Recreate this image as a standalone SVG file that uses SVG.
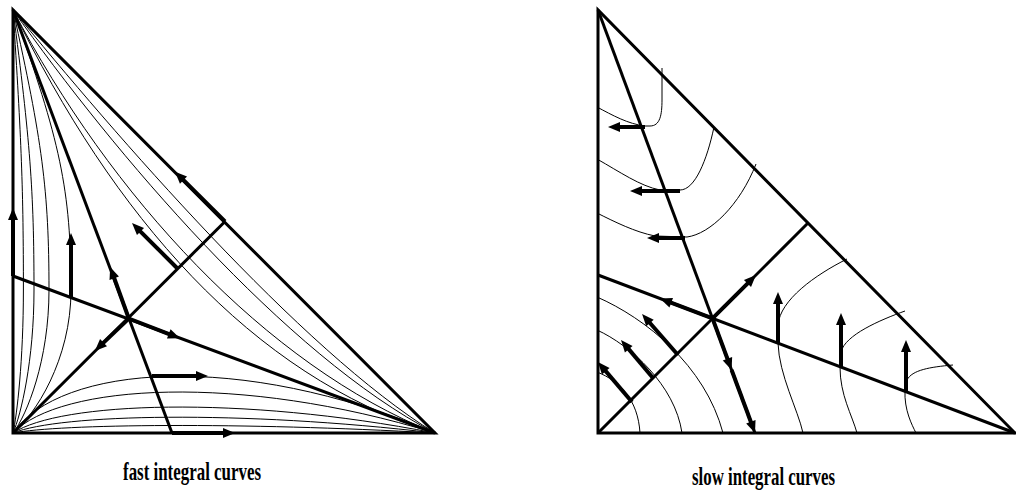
<svg xmlns="http://www.w3.org/2000/svg" width="1016" height="496" viewBox="0 0 1016 496">
<style>
.thick{fill:none;stroke:#000;stroke-width:3;stroke-linejoin:miter}
.thin{fill:none;stroke:#000;stroke-width:1}
.arr{fill:none;stroke:#000;stroke-width:4;marker-end:url(#ah)}
.lbl{font-family:"Liberation Serif","Times New Roman",serif;font-weight:bold;font-size:26px;fill:#000}
</style>
<defs>
<marker id="ah" markerUnits="userSpaceOnUse" markerWidth="12" markerHeight="10" refX="1" refY="5" orient="auto" overflow="visible">
<path d="M0,0 L12,5 L0,10 Z" fill="#000"/>
</marker>
</defs>
<rect width="1016" height="496" fill="#fff"/>

<g id="fast-panel">
<g id="fast-curves">
<path class="thin" d="M13,10 C21.5,140 23.4,190 23.4,290 C23.4,360 17,415 13,433"/>
<path class="thin" d="M13,10 C30,140 34,190 34,290 C34,360 21,415 13,433"/>
<path class="thin" d="M13,10 C42,140 49,190 49,290 C49,360 27,415 13,433"/>
<path class="thin" d="M13,10 C60,140 71,190 71,290 C71,360 35,415 13,433"/>
<path class="thin" d="M13,10 C113,132 300,350 435,433"/>
<path class="thin" d="M13,10 C113,152 285,355 435,433"/>
<path class="thin" d="M13,10 C110,195 265,365 435,433"/>
<path class="thin" d="M13,10 C113,215 250,375 435,433"/>
<path class="thin" d="M13,433 C60,365 240,350 435,433"/>
<path class="thin" d="M13,433 C60,384 240,373 435,433"/>
<path class="thin" d="M13,433 C60,402 240,395 435,433"/>
<path class="thin" d="M13,433 C60,414 240,410 435,433"/>
<path class="thin" d="M13,433 C60,424 240,422 435,433"/>
</g>
<g id="fast-frame">
<polygon class="thick" points="13,10 13,433 435,433"/>
<line class="thick" x1="13" y1="10" x2="172" y2="433"/>
<line class="thick" x1="13" y1="276" x2="435" y2="433"/>
<line class="thick" x1="13" y1="433" x2="225" y2="221.5"/>
</g>
<g id="fast-arrows">
<line class="arr" x1="13" y1="276" x2="13" y2="219"/>
<line class="arr" x1="71" y1="297" x2="71" y2="244"/>
<line class="arr" x1="128.8" y1="318.5" x2="113.9" y2="277.3"/>
<line class="arr" x1="177" y1="268" x2="139.8" y2="230.8"/>
<line class="arr" x1="225" y1="221.5" x2="182.8" y2="179.4"/>
<line class="arr" x1="128.8" y1="318.5" x2="169.7" y2="334.3"/>
<line class="arr" x1="128.8" y1="318.5" x2="102.8" y2="343.4"/>
<line class="arr" x1="152" y1="376" x2="197" y2="376"/>
<line class="arr" x1="172" y1="433" x2="224" y2="433"/>
</g>
<text id="fast-label" class="lbl" x="123" y="480" textLength="138" lengthAdjust="spacingAndGlyphs">fast integral curves</text>
</g>

<g id="slow-panel">
<g id="slow-curves">
<path class="thin" d="M597,107 C612,115 628,124 645,126 L650,126 C660,126 662,115 662,100 L662,68"/>
<path class="thin" d="M597,159 C620,172 640,186 660,190 L680,190 C695,190 707,160 714,127"/>
<path class="thin" d="M597,213 C615,222 635,232 655,236 L687,237 C710,234 740,205 756,164"/>
<path class="thin" d="M597,372 C620,381 638,400 640,433"/>
<path class="thin" d="M597,330 C630,345 675,385 682,433"/>
<path class="thin" d="M597,297 C645,318 705,365 723,433"/>
<path class="thin" d="M778,343 C779,375 798,410 803,433"/>
<path class="thin" d="M778,325 C780,300 815,275 847,259"/>
<path class="thin" d="M840,367 C840,395 852,415 857,433"/>
<path class="thin" d="M841,352 C845,335 880,320 905,311"/>
<path class="thin" d="M905,390 C904,410 912,425 916,433"/>
<path class="thin" d="M907,380 C912,370 930,367 953,365"/>
</g>
<g id="slow-frame">
<polygon class="thick" points="598,10 598,433 1015,433"/>
<line class="thick" x1="598" y1="10" x2="755" y2="433"/>
<line class="thick" x1="598" y1="275" x2="1015" y2="433"/>
<line class="thick" x1="598" y1="433" x2="808" y2="223"/>
</g>
<g id="slow-arrows">
<line class="arr" x1="712.5" y1="318.4" x2="670.3" y2="302.4"/>
<line class="arr" x1="712.5" y1="318.4" x2="748.2" y2="282.8"/>
<line class="arr" x1="712.5" y1="318.4" x2="727.8" y2="359.7"/>
<line class="arr" x1="731.6" y1="370" x2="751.2" y2="422.7"/>
<line class="arr" x1="678" y1="355" x2="649.3" y2="322.3"/>
<line class="arr" x1="653" y1="378" x2="628.1" y2="348.4"/>
<line class="arr" x1="632" y1="402" x2="605.1" y2="370.4"/>
<line class="arr" x1="645" y1="127" x2="619" y2="127"/>
<line class="arr" x1="680" y1="191" x2="641" y2="191"/>
<line class="arr" x1="685" y1="238" x2="658" y2="238"/>
<line class="arr" x1="778" y1="343" x2="778" y2="303"/>
<line class="arr" x1="841" y1="367" x2="841" y2="324"/>
<line class="arr" x1="906" y1="391" x2="906" y2="351"/>
</g>
<text id="slow-label" class="lbl" x="692" y="485" textLength="143" lengthAdjust="spacingAndGlyphs">slow integral curves</text>
</g>
</svg>
